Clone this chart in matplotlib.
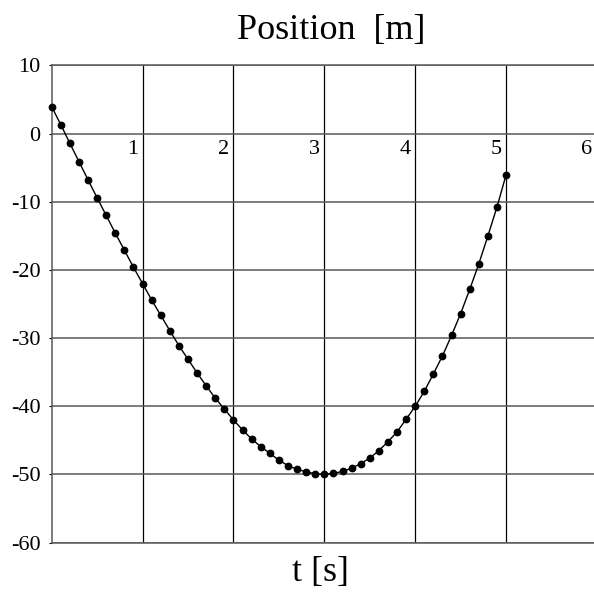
import matplotlib
import numpy as np
from matplotlib import pyplot as plt

matplotlib.use("Agg")

plt.rcParams["font.family"] = ["Liberation Serif", "DejaVu Serif"]
plt.rcParams["axes.unicode_minus"] = False

# time samples [s] and position readings [m]
time_s = [0.0, 0.1, 0.2, 0.3, 0.4, 0.5, 0.6, 0.7, 0.8, 0.9,
          1.0, 1.1, 1.2, 1.3, 1.4, 1.5, 1.6, 1.7, 1.8, 1.9,
          2.0, 2.1, 2.2, 2.3, 2.4, 2.5, 2.6, 2.7, 2.8, 2.9,
          3.0, 3.1, 3.2, 3.3, 3.4, 3.5, 3.6, 3.7, 3.8, 3.9,
          4.0, 4.1, 4.2, 4.3, 4.4, 4.5, 4.6, 4.7, 4.8, 4.9, 5.0]
position_m = [3.95, 1.32, -1.42, -4.10, -6.78, -9.42, -12.0, -14.6, -17.1, -19.6,
              -22.0, -24.4, -26.65, -28.9, -31.1, -33.1, -35.1, -37.0, -38.8, -40.4,
              -42.0, -43.45, -44.8, -45.9, -46.9, -47.9, -48.7, -49.25, -49.6, -49.9,
              -50.0, -49.85, -49.55, -49.1, -48.4, -47.6, -46.5, -45.2, -43.75, -41.9,
              -40.0, -37.8, -35.25, -32.6, -29.6, -26.4, -22.85, -19.1, -15.0, -10.75, -6.05]

x_ticks = [1, 2, 3, 4, 5, 6]
y_ticks = [10, 0, -10, -20, -30, -40, -50, -60]

fig = plt.figure(figsize=(5.94, 5.95), dpi=100)
# right edge of the axes runs slightly past the figure, like the original
ax = fig.add_axes([0.087, 0.088, 0.918, 0.802])
ax.set_xlim(0, 6)
ax.set_ylim(-60, 10)

for xv in x_ticks:
    ax.axvline(xv, color="black", linewidth=0.9, zorder=1)
for yv in y_ticks:
    ax.axhline(yv, color="0.35", linewidth=1.1, zorder=1)

ax.plot(time_s, position_m, color="black", linewidth=1.0, marker="o",
        markersize=4.6, zorder=3, clip_on=False)

ax.set_xticks([])
ax.set_yticks(y_ticks)
ax.set_yticklabels([str(v) for v in y_ticks], fontsize=16)
ax.tick_params(axis="y", length=2, width=0.8, pad=6, colors="black")

for xv in x_ticks:
    ax.text(xv - 0.05, -2.4, str(xv), ha="right", va="center", fontsize=16)

for side in ["left", "top", "bottom"]:
    ax.spines[side].set_color("0.35")
    ax.spines[side].set_linewidth(1.1)
ax.spines["right"].set_visible(False)

fig.text(331 / 594, 1 - 31 / 595, "Position  [m]", ha="center", va="center", fontsize=26)
fig.text(320 / 594, 1 - 572 / 595, "t [s]", ha="center", va="center", fontsize=26)

fig.savefig("out.png", dpi=100)
plt.close(fig)
